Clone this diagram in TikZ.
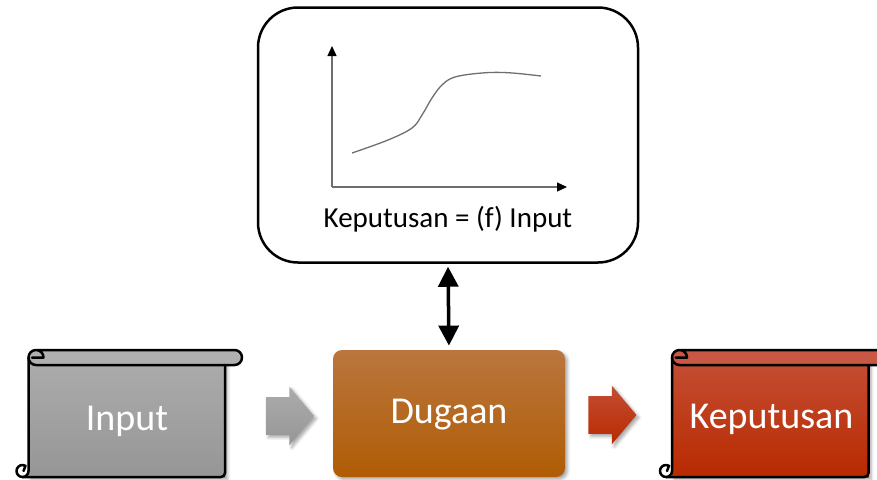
\documentclass[tikz,border=0pt]{standalone}
\usepackage{fontspec}
\setmainfont{Carlito}
\usepackage{tikz}
\usetikzlibrary{arrows.meta}
\usetikzlibrary{shapes.arrows}
\usetikzlibrary{shadows.blur}

\definecolor{abuatas}{RGB}{172,172,172}
\definecolor{abubawah}{RGB}{150,150,150}
\definecolor{abugulung}{RGB}{176,176,176}
\definecolor{merahatas}{RGB}{196,78,52}
\definecolor{merahbawah}{RGB}{184,42,0}
\definecolor{merahgulung}{RGB}{200,88,68}
\definecolor{coklatatas}{RGB}{186,118,62}
\definecolor{coklatbawah}{RGB}{176,92,4}
\definecolor{garis}{RGB}{110,110,110}

% kertas gulung: #1 = x tepi kiri, #2/#3 = warna badan, #4 = warna gulungan
\newcommand{\gulungan}[4]{%
	\begin{scope}[shift={(#1,350)}]
		\fill[top color=#2,bottom color=#3,bayang] (0,7.5) rectangle (196.5,127);
		\fill[#4] (7.5,0) -- (206,0) arc[start angle=-90,end angle=90,radius=7.5]
			-- (7.5,15) arc[start angle=90,end angle=270,radius=7.5] -- cycle;
		% gulungan atas
		\draw[tepi] (7.5,0) -- (206,0) arc[start angle=-90,end angle=90,radius=7.5]
			-- (7.5,15) arc[start angle=90,end angle=360,radius=7.5] -- (3.5,7.5);
		% sisi kiri dan ikal bawah
		\draw[tepi] (0,7.5) -- (0,121) arc[start angle=0,end angle=300,radius=6] -- (-5,121);
		% sisi bawah dan kanan
		\draw[tepi] (-6,127) -- (192.5,127) arc[start angle=90,end angle=0,radius=4] -- (196.5,15);
	\end{scope}}

\begin{document}
\begin{tikzpicture}[x=1pt,y=-1pt,thick]
	
	\tikzstyle{tepi} = [line width=2.5pt,line cap=round,line join=round]
	\tikzstyle{bayang} = [blur shadow={shadow xshift=2.5pt,shadow yshift=-2.5pt,shadow blur radius=3pt,shadow opacity=35}]
	\tikzstyle{teks} = [text=white,font=\fontsize{38}{40}\selectfont,anchor=base]
	\tikzstyle{panah} = [single arrow,single arrow head extend=10.5pt,single arrow tip angle=100,
		minimum height=48pt,text height=37pt,text depth=0pt,inner sep=0pt,bayang]
	\tikzstyle{sumbu} = [garis,line width=1.3pt,-{Triangle[length=10pt,width=9pt,color=black]}]
	
	\useasboundingbox (0,0) rectangle (877,479);
	
	% kotak fungsi di atas
	\node[draw,line width=2.5pt,rounded corners=40pt,minimum width=380pt,minimum height=255pt] (fungsi) at (448,135) {};
	\coordinate (o) at (332,187);
	\coordinate (ujungy) at (332,46);
	\coordinate (ujungx) at (567,187);
	\draw[sumbu] (o) -- (ujungy);
	\draw[sumbu] (o) -- (ujungx);
	\draw[garis,line width=1.3pt] plot[smooth,tension=0.6] coordinates
		{(352,153) (388,140) (412,128) (422,115) (432,98) (442,85) (455,77) (482,73) (508,72.7) (541,76)};
	\node[anchor=base,font=\fontsize{29}{30}\selectfont] (rumus) at (448,227) {Keputusan = (f) Input};
	
	% input -> dugaan -> keputusan
	\gulungan{28.5}{abuatas}{abubawah}{abugulung}
	\node[teks] (input) at (127,430) {Input};
	
	\node[panah,top color=abuatas,bottom color=abubawah] (panah1) at (282,416) {};
	
	\node[rounded corners=9pt,minimum width=232pt,minimum height=127pt,top color=coklatatas,bottom color=coklatbawah,
		bayang,text=white,font=\fontsize{38}{40}\selectfont,text height=27pt,text depth=8pt] (dugaan) at (449,413.5) {Dugaan};
	
	\node[panah,top color=merahatas,bottom color=merahbawah] (panah2) at (604.5,415) {};
	
	\gulungan{672}{merahatas}{merahbawah}{merahgulung}
	\node[teks] (keputusan) at (771.5,428) {Keputusan};
	
	% hubungan dua arah
	\draw[line width=3.5pt,{Triangle[length=20pt,width=20pt]}-{Triangle[length=20pt,width=20pt]},shorten <=3pt,shorten >=4pt] (fungsi.south) -- (dugaan.north);
	
\end{tikzpicture}
\end{document}
